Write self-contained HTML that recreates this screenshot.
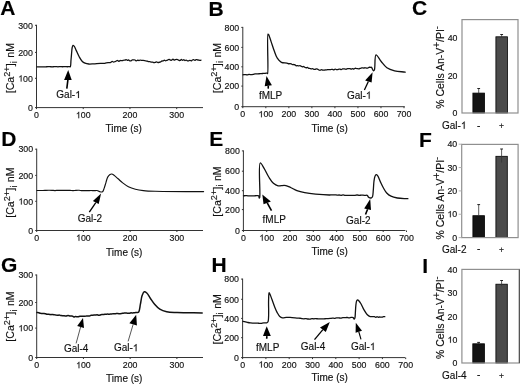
<!DOCTYPE html>
<html><head><meta charset="utf-8"><style>
html,body{margin:0;padding:0;background:#fff;}
svg{display:block;font-family:"Liberation Sans", sans-serif;will-change:transform;filter:blur(0.3px);}
text,.one{stroke:#111;stroke-width:0.15px;}
</style></head><body>
<svg width="520" height="384" viewBox="0 0 520 384" font-family='"Liberation Sans", sans-serif'>
<rect width="520" height="384" fill="#fff"/>
<text x="0.30" y="15.30" font-size="21" text-anchor="start" font-weight="bold" fill="#000" >A</text>
<text x="208.40" y="15.50" font-size="21" text-anchor="start" font-weight="bold" fill="#000" >B</text>
<text x="412.10" y="14.50" font-size="21" text-anchor="start" font-weight="bold" fill="#000" >C</text>
<text x="1.20" y="146.00" font-size="21" text-anchor="start" font-weight="bold" fill="#000" >D</text>
<text x="209.20" y="146.30" font-size="21" text-anchor="start" font-weight="bold" fill="#000" >E</text>
<text x="419.10" y="147.30" font-size="21" text-anchor="start" font-weight="bold" fill="#000" >F</text>
<text x="1.10" y="271.80" font-size="21" text-anchor="start" font-weight="bold" fill="#000" >G</text>
<text x="211.40" y="272.40" font-size="21" text-anchor="start" font-weight="bold" fill="#000" >H</text>
<text x="422.20" y="273.20" font-size="21" text-anchor="start" font-weight="bold" fill="#000" >I</text>
<line x1="36.50" y1="24.80" x2="36.50" y2="108.10" stroke="#333" stroke-width="1"/>
<line x1="36.00" y1="107.60" x2="203.00" y2="107.60" stroke="#333" stroke-width="1"/>
<line x1="35.00" y1="107.60" x2="36.50" y2="107.60" stroke="#333" stroke-width="1"/>
<text x="32.90" y="110.80" font-size="8.8" text-anchor="end" font-weight="normal" fill="#111" >0</text>
<line x1="35.00" y1="78.30" x2="36.50" y2="78.30" stroke="#333" stroke-width="1"/>
<text x="18.22" y="81.50" font-size="8.8" text-anchor="start" fill="#111" style="font-kerning:none"> 00</text>
<path class="one" d="M763 0H583V1147Q518 1085 412.5 1023T223 930V1104Q373 1175 485.5 1276T645 1472H763V0Z" transform="translate(18.218,81.500) scale(0.004297,-0.004297)" fill="#111" style="stroke-width:34.9px"/>
<line x1="35.00" y1="52.40" x2="36.50" y2="52.40" stroke="#333" stroke-width="1"/>
<text x="32.90" y="55.60" font-size="8.8" text-anchor="end" font-weight="normal" fill="#111" >200</text>
<line x1="35.00" y1="25.30" x2="36.50" y2="25.30" stroke="#333" stroke-width="1"/>
<text x="32.90" y="28.50" font-size="8.8" text-anchor="end" font-weight="normal" fill="#111" >300</text>
<line x1="36.50" y1="107.60" x2="36.50" y2="109.10" stroke="#333" stroke-width="1"/>
<text x="36.50" y="118.20" font-size="8.8" text-anchor="middle" font-weight="normal" fill="#111" >0</text>
<line x1="83.23" y1="107.60" x2="83.23" y2="109.10" stroke="#333" stroke-width="1"/>
<text x="75.89" y="118.20" font-size="8.8" text-anchor="start" fill="#111" style="font-kerning:none"> 00</text>
<path class="one" d="M763 0H583V1147Q518 1085 412.5 1023T223 930V1104Q373 1175 485.5 1276T645 1472H763V0Z" transform="translate(75.889,118.200) scale(0.004297,-0.004297)" fill="#111" style="stroke-width:34.9px"/>
<line x1="129.96" y1="107.60" x2="129.96" y2="109.10" stroke="#333" stroke-width="1"/>
<text x="129.96" y="118.20" font-size="8.8" text-anchor="middle" font-weight="normal" fill="#111" >200</text>
<line x1="176.69" y1="107.60" x2="176.69" y2="109.10" stroke="#333" stroke-width="1"/>
<text x="176.69" y="118.20" font-size="8.8" text-anchor="middle" font-weight="normal" fill="#111" >300</text>
<text x="105.50" y="131.60" font-size="10" text-anchor="start" font-weight="normal" fill="#111" >Time (s)</text>
<text transform="translate(14.20,68.10) rotate(-90)" font-size="10.6" text-anchor="middle" fill="#111">[Ca<tspan font-size="9.2" dy="-4.0">2+</tspan><tspan dy="4.0">]</tspan><tspan font-size="8.4" dy="2.9" dx="0.4">i</tspan><tspan dy="-2.9" dx="0.5"> nM</tspan></text>
<path d="M37.00,66.80 C37.72,66.83 38.44,66.90 39.17,66.90 C39.89,66.90 40.61,66.82 41.33,66.81 C42.06,66.81 42.78,66.88 43.50,66.89 C44.22,66.90 44.95,66.92 45.67,66.88 C46.39,66.84 47.11,66.69 47.83,66.64 C48.55,66.60 49.29,66.56 50.00,66.61 C50.68,66.65 51.33,66.89 52.00,66.89 C52.67,66.90 53.33,66.68 54.00,66.62 C54.67,66.57 55.33,66.54 56.00,66.57 C56.67,66.61 57.33,66.84 58.00,66.84 C58.67,66.84 59.30,66.61 60.00,66.59 C60.77,66.57 61.62,66.75 62.42,66.76 C63.23,66.77 64.04,66.65 64.85,66.64 C65.66,66.64 66.47,66.72 67.28,66.73 C68.08,66.74 69.16,66.66 69.70,66.70 C69.97,66.72 70.13,66.93 70.30,66.80 C70.87,66.37 70.79,62.16 71.00,60.00 C71.19,58.04 71.31,56.36 71.50,54.40 C71.71,52.22 71.82,49.14 72.20,47.50 C72.42,46.55 72.60,45.42 73.00,45.30 C73.34,45.20 73.88,45.78 74.30,46.30 C75.01,47.19 75.57,49.04 76.30,50.60 C77.18,52.48 78.16,54.94 79.20,56.80 C80.11,58.43 81.01,60.11 82.10,61.20 C82.98,62.08 83.92,62.64 85.00,63.10 C86.14,63.59 87.44,63.87 88.80,64.00 C90.32,64.15 91.94,63.90 93.70,63.80 C95.76,63.68 98.84,63.31 100.40,63.29 C101.24,63.28 101.69,63.38 102.33,63.38 C102.98,63.39 103.63,63.40 104.27,63.32 C104.91,63.24 105.57,63.02 106.20,62.90 C106.81,62.79 107.44,62.66 108.00,62.63 C108.49,62.60 108.94,62.73 109.40,62.69 C109.87,62.65 110.35,62.58 110.80,62.38 C111.29,62.16 111.72,61.41 112.20,61.37 C112.66,61.33 113.13,62.02 113.60,62.06 C114.06,62.09 114.55,61.80 115.00,61.62 C115.44,61.44 115.83,61.21 116.25,61.00 C116.67,60.80 117.09,60.38 117.50,60.42 C117.93,60.45 118.33,61.25 118.75,61.26 C119.16,61.27 119.57,60.62 120.00,60.51 C120.40,60.42 120.83,60.59 121.25,60.60 C121.67,60.61 122.09,60.64 122.50,60.57 C122.92,60.49 123.33,60.18 123.75,60.12 C124.16,60.05 124.60,60.23 125.00,60.15 C125.41,60.07 125.81,59.60 126.20,59.62 C126.61,59.65 126.99,60.25 127.40,60.31 C127.79,60.36 128.21,59.94 128.60,60.01 C129.02,60.08 129.38,60.66 129.80,60.81 C130.18,60.94 130.61,61.01 131.00,60.89 C131.46,60.75 131.87,60.02 132.34,59.86 C132.77,59.72 133.24,59.88 133.69,59.90 C134.13,59.92 134.60,59.84 135.03,59.99 C135.50,60.16 135.91,60.92 136.37,60.95 C136.81,60.98 137.25,60.32 137.71,60.25 C138.15,60.18 138.61,60.51 139.06,60.48 C139.51,60.45 139.95,60.05 140.40,60.04 C140.85,60.04 141.31,60.39 141.77,60.45 C142.22,60.52 142.69,60.42 143.14,60.44 C143.60,60.45 144.06,60.45 144.51,60.53 C144.98,60.63 145.42,60.88 145.89,60.98 C146.34,61.08 146.81,61.01 147.26,61.12 C147.72,61.24 148.16,61.62 148.63,61.68 C149.08,61.75 149.56,61.47 150.00,61.54 C150.45,61.60 150.87,61.97 151.32,62.08 C151.75,62.18 152.20,62.12 152.64,62.20 C153.08,62.29 153.52,62.57 153.96,62.60 C154.40,62.63 154.84,62.51 155.28,62.40 C155.72,62.30 156.16,61.95 156.60,61.96 C157.05,61.97 157.49,62.45 157.95,62.49 C158.39,62.54 158.85,62.37 159.30,62.25 C159.75,62.14 160.21,62.00 160.65,61.80 C161.11,61.59 161.54,61.11 162.00,60.99 C162.40,60.88 162.83,61.12 163.21,61.00 C163.64,60.87 164.01,60.20 164.43,60.17 C164.82,60.15 165.23,60.79 165.64,60.81 C166.04,60.82 166.45,60.47 166.85,60.30 C167.26,60.12 167.66,59.92 168.06,59.75 C168.46,59.58 168.88,59.23 169.27,59.28 C169.69,59.33 170.06,60.00 170.49,60.14 C170.87,60.26 171.32,60.28 171.70,60.14 C172.14,59.97 172.50,59.05 172.91,59.04 C173.31,59.03 173.69,59.96 174.12,60.04 C174.50,60.10 174.92,59.72 175.33,59.60 C175.73,59.49 176.13,59.34 176.54,59.34 C176.94,59.34 177.35,59.45 177.75,59.60 C178.16,59.75 178.54,60.14 178.95,60.29 C179.35,60.43 179.78,60.60 180.16,60.49 C180.59,60.38 180.96,59.51 181.37,59.49 C181.77,59.47 182.17,60.29 182.58,60.30 C182.98,60.32 183.40,59.60 183.79,59.64 C184.21,59.67 184.58,60.53 185.00,60.58 C185.39,60.64 185.83,60.05 186.23,60.07 C186.65,60.10 187.04,60.64 187.46,60.78 C187.86,60.91 188.29,60.98 188.69,60.90 C189.11,60.82 189.51,60.28 189.92,60.28 C190.33,60.28 190.75,60.94 191.15,60.91 C191.57,60.88 191.95,60.21 192.38,60.01 C192.78,59.82 193.21,59.65 193.62,59.70 C194.04,59.75 194.44,60.38 194.85,60.37 C195.26,60.36 195.65,59.70 196.08,59.62 C196.47,59.55 196.90,59.75 197.31,59.83 C197.72,59.91 198.13,60.01 198.54,60.10 C198.95,60.18 199.36,60.33 199.77,60.35 C200.18,60.37 200.59,60.25 201.00,60.20" fill="none" stroke="#111" stroke-width="1.3" stroke-linejoin="round" stroke-linecap="round"/>
<line x1="67.90" y1="79.90" x2="66.80" y2="88.70" stroke="#000" stroke-width="1.6"/>
<polygon points="68.20,70.00 64.10,79.90 71.70,79.90" fill="#000"/>
<text x="56.30" y="98.10" font-size="10" text-anchor="start" fill="#111" style="font-kerning:none">Gal- </text>
<path class="one" d="M763 0H583V1147Q518 1085 412.5 1023T223 930V1104Q373 1175 485.5 1276T645 1472H763V0Z" transform="translate(75.192,98.100) scale(0.004883,-0.004883)" fill="#111" style="stroke-width:30.7px"/>
<line x1="242.80" y1="26.90" x2="242.80" y2="107.20" stroke="#333" stroke-width="1"/>
<line x1="242.30" y1="106.70" x2="404.80" y2="106.70" stroke="#333" stroke-width="1"/>
<line x1="241.30" y1="106.70" x2="242.80" y2="106.70" stroke="#333" stroke-width="1"/>
<text x="239.20" y="109.90" font-size="8.8" text-anchor="end" font-weight="normal" fill="#111" >0</text>
<line x1="241.30" y1="86.10" x2="242.80" y2="86.10" stroke="#333" stroke-width="1"/>
<text x="239.20" y="89.30" font-size="8.8" text-anchor="end" font-weight="normal" fill="#111" >200</text>
<line x1="241.30" y1="66.80" x2="242.80" y2="66.80" stroke="#333" stroke-width="1"/>
<text x="239.20" y="70.00" font-size="8.8" text-anchor="end" font-weight="normal" fill="#111" >400</text>
<line x1="241.30" y1="47.40" x2="242.80" y2="47.40" stroke="#333" stroke-width="1"/>
<text x="239.20" y="50.60" font-size="8.8" text-anchor="end" font-weight="normal" fill="#111" >600</text>
<line x1="241.30" y1="27.40" x2="242.80" y2="27.40" stroke="#333" stroke-width="1"/>
<text x="239.20" y="30.60" font-size="8.8" text-anchor="end" font-weight="normal" fill="#111" >800</text>
<line x1="242.80" y1="106.70" x2="242.80" y2="108.20" stroke="#333" stroke-width="1"/>
<text x="242.80" y="117.30" font-size="8.8" text-anchor="middle" font-weight="normal" fill="#111" >0</text>
<line x1="265.83" y1="106.70" x2="265.83" y2="108.20" stroke="#333" stroke-width="1"/>
<text x="258.49" y="117.30" font-size="8.8" text-anchor="start" fill="#111" style="font-kerning:none"> 00</text>
<path class="one" d="M763 0H583V1147Q518 1085 412.5 1023T223 930V1104Q373 1175 485.5 1276T645 1472H763V0Z" transform="translate(258.489,117.300) scale(0.004297,-0.004297)" fill="#111" style="stroke-width:34.9px"/>
<line x1="288.86" y1="106.70" x2="288.86" y2="108.20" stroke="#333" stroke-width="1"/>
<text x="288.86" y="117.30" font-size="8.8" text-anchor="middle" font-weight="normal" fill="#111" >200</text>
<line x1="311.89" y1="106.70" x2="311.89" y2="108.20" stroke="#333" stroke-width="1"/>
<text x="311.89" y="117.30" font-size="8.8" text-anchor="middle" font-weight="normal" fill="#111" >300</text>
<line x1="334.92" y1="106.70" x2="334.92" y2="108.20" stroke="#333" stroke-width="1"/>
<text x="334.92" y="117.30" font-size="8.8" text-anchor="middle" font-weight="normal" fill="#111" >400</text>
<line x1="357.95" y1="106.70" x2="357.95" y2="108.20" stroke="#333" stroke-width="1"/>
<text x="357.95" y="117.30" font-size="8.8" text-anchor="middle" font-weight="normal" fill="#111" >500</text>
<line x1="380.98" y1="106.70" x2="380.98" y2="108.20" stroke="#333" stroke-width="1"/>
<text x="380.98" y="117.30" font-size="8.8" text-anchor="middle" font-weight="normal" fill="#111" >600</text>
<line x1="404.01" y1="106.70" x2="404.01" y2="108.20" stroke="#333" stroke-width="1"/>
<text x="404.01" y="117.30" font-size="8.8" text-anchor="middle" font-weight="normal" fill="#111" >700</text>
<text x="311.50" y="131.50" font-size="10" text-anchor="start" font-weight="normal" fill="#111" >Time (s)</text>
<text transform="translate(220.50,68.00) rotate(-90)" font-size="10.6" text-anchor="middle" fill="#111">[Ca<tspan font-size="9.2" dy="-4.0">2+</tspan><tspan dy="4.0">]</tspan><tspan font-size="8.4" dy="2.9" dx="0.4">i</tspan><tspan dy="-2.9" dx="0.5"> nM</tspan></text>
<path d="M243.00,74.79 C243.68,74.72 244.35,74.55 245.03,74.57 C245.70,74.59 246.38,74.93 247.05,74.90 C247.73,74.88 248.40,74.46 249.07,74.41 C249.75,74.37 250.42,74.64 251.10,74.64 C251.77,74.65 252.45,74.56 253.12,74.45 C253.80,74.34 254.47,74.07 255.15,73.98 C255.82,73.88 256.50,73.91 257.18,73.87 C257.85,73.83 258.52,73.78 259.20,73.75 C259.87,73.71 260.55,73.71 261.23,73.66 C261.90,73.62 262.57,73.54 263.25,73.47 C263.92,73.41 264.60,73.36 265.28,73.29 C265.95,73.23 266.91,72.93 267.30,73.10 C267.52,73.19 267.58,73.64 267.70,73.60 C268.64,73.27 266.77,34.79 268.00,34.10 C268.15,34.02 268.32,34.18 268.50,34.40 C269.16,35.20 270.21,39.05 271.10,41.60 C272.10,44.47 273.11,47.92 274.20,50.80 C275.19,53.42 275.96,56.18 277.30,58.20 C278.44,59.93 279.77,61.60 281.40,62.40 C282.98,63.17 285.65,62.67 286.90,63.02 C287.60,63.22 287.92,63.63 288.45,63.74 C288.95,63.85 289.51,63.66 290.00,63.71 C290.44,63.75 290.84,63.84 291.25,63.98 C291.68,64.13 292.07,64.54 292.50,64.62 C292.91,64.70 293.34,64.44 293.75,64.49 C294.17,64.53 294.60,64.69 295.00,64.90 C295.44,65.13 295.81,65.72 296.25,65.83 C296.65,65.92 297.08,65.61 297.50,65.62 C297.92,65.63 298.33,65.90 298.75,65.90 C299.17,65.90 299.59,65.55 300.00,65.61 C300.43,65.67 300.83,66.12 301.25,66.32 C301.66,66.51 302.08,66.75 302.50,66.78 C302.91,66.81 303.35,66.44 303.75,66.52 C304.19,66.61 304.56,67.21 305.00,67.42 C305.40,67.60 305.83,67.73 306.25,67.73 C306.67,67.74 307.10,67.38 307.50,67.46 C307.94,67.55 308.31,68.16 308.75,68.33 C309.15,68.48 309.59,68.38 310.00,68.47 C310.42,68.55 310.83,68.82 311.25,68.85 C311.66,68.89 312.09,68.64 312.50,68.70 C312.92,68.76 313.33,69.11 313.75,69.23 C314.16,69.35 314.59,69.49 315.00,69.44 C315.42,69.39 315.83,68.95 316.25,68.90 C316.66,68.85 317.10,68.96 317.50,69.11 C317.93,69.28 318.32,69.69 318.75,69.90 C319.16,70.10 319.59,70.39 320.00,70.36 C320.42,70.34 320.82,69.78 321.25,69.73 C321.66,69.67 322.08,69.92 322.50,70.01 C322.92,70.09 323.33,70.22 323.75,70.22 C324.17,70.22 324.58,70.07 325.00,70.02 C325.42,69.97 325.83,69.96 326.25,69.91 C326.67,69.86 327.08,69.76 327.50,69.71 C327.92,69.66 328.33,69.62 328.75,69.62 C329.17,69.62 329.59,69.73 330.00,69.70 C330.42,69.66 330.83,69.42 331.25,69.38 C331.66,69.33 332.09,69.36 332.50,69.43 C332.92,69.50 333.35,69.85 333.75,69.80 C334.18,69.74 334.57,69.06 335.00,69.03 C335.41,68.99 335.83,69.43 336.25,69.54 C336.66,69.65 337.09,69.73 337.50,69.69 C337.92,69.64 338.33,69.33 338.75,69.24 C339.16,69.14 339.59,69.06 340.00,69.12 C340.42,69.19 340.84,69.65 341.25,69.63 C341.67,69.61 342.07,69.12 342.50,68.99 C342.91,68.87 343.33,68.85 343.75,68.86 C344.17,68.87 344.58,68.98 345.00,69.04 C345.42,69.10 345.84,69.29 346.25,69.22 C346.68,69.15 347.07,68.63 347.50,68.55 C347.90,68.47 348.33,68.68 348.75,68.70 C349.17,68.71 349.59,68.57 350.00,68.63 C350.42,68.70 350.83,69.08 351.25,69.08 C351.67,69.08 352.08,68.65 352.50,68.64 C352.91,68.63 353.34,69.06 353.75,69.01 C354.18,68.95 354.57,68.37 355.00,68.27 C355.40,68.18 355.84,68.32 356.25,68.39 C356.67,68.45 357.08,68.58 357.50,68.65 C357.92,68.72 358.34,68.88 358.75,68.83 C359.17,68.79 359.58,68.49 360.00,68.35 C360.42,68.21 360.85,68.11 361.28,68.01 C361.70,67.92 362.13,67.79 362.56,67.80 C362.98,67.81 363.41,68.12 363.83,68.10 C364.26,68.07 364.69,67.64 365.11,67.65 C365.54,67.65 365.96,68.08 366.39,68.15 C366.81,68.22 367.26,68.20 367.67,68.07 C368.11,67.93 368.50,67.43 368.94,67.31 C369.36,67.19 369.80,67.27 370.22,67.29 C370.65,67.31 371.09,67.14 371.50,67.40 C372.22,67.85 372.91,70.71 373.50,70.80 C373.82,70.85 374.13,70.52 374.40,70.00 C375.35,68.15 374.44,55.24 376.00,54.80 C377.16,54.47 379.38,59.35 381.20,61.50 C383.01,63.65 384.66,66.15 386.90,67.70 C389.13,69.24 391.78,70.07 394.60,70.80 C397.80,71.63 401.67,71.67 405.20,72.10" fill="none" stroke="#111" stroke-width="1.3" stroke-linejoin="round" stroke-linecap="round"/>
<line x1="268.30" y1="85.80" x2="268.20" y2="88.60" stroke="#000" stroke-width="1.6"/>
<polygon points="266.50,76.00 264.70,86.30 271.90,85.30" fill="#000"/>
<text x="258.90" y="98.90" font-size="10" text-anchor="start" font-weight="normal" fill="#111" >fMLP</text>
<line x1="368.35" y1="81.60" x2="364.40" y2="90.10" stroke="#000" stroke-width="1.3"/>
<polygon points="372.60,72.30 365.10,80.60 371.60,82.60" fill="#000"/>
<text x="347.00" y="98.70" font-size="10" text-anchor="start" fill="#111" style="font-kerning:none">Gal- </text>
<path class="one" d="M763 0H583V1147Q518 1085 412.5 1023T223 930V1104Q373 1175 485.5 1276T645 1472H763V0Z" transform="translate(365.892,98.700) scale(0.004883,-0.004883)" fill="#111" style="stroke-width:30.7px"/>
<rect x="472.90" y="93.10" width="11.60" height="19.90" fill="#141414" stroke="#000" stroke-width="0.8"/>
<line x1="478.70" y1="88.50" x2="478.70" y2="93.20" stroke="#333" stroke-width="0.8"/>
<line x1="477.30" y1="88.50" x2="480.10" y2="88.50" stroke="#222" stroke-width="1.0"/>
<rect x="495.90" y="36.80" width="11.50" height="76.20" fill="#4b4b4b" stroke="#000" stroke-width="0.8"/>
<line x1="501.65" y1="34.50" x2="501.65" y2="36.90" stroke="#333" stroke-width="0.8"/>
<line x1="500.25" y1="34.50" x2="503.05" y2="34.50" stroke="#222" stroke-width="1.0"/>
<rect x="462.00" y="19.60" width="56.00" height="93.40" fill="none" stroke="#8f8f8f" stroke-width="1.2"/>
<text x="457.50" y="116.00" font-size="8.8" text-anchor="end" font-weight="normal" fill="#111" >0</text>
<text x="457.50" y="78.60" font-size="8.8" text-anchor="end" font-weight="normal" fill="#111" >20</text>
<text x="457.50" y="41.20" font-size="8.8" text-anchor="end" font-weight="normal" fill="#111" >40</text>
<text x="442.00" y="128.80" font-size="10" text-anchor="start" fill="#111" style="font-kerning:none">Gal- </text>
<path class="one" d="M763 0H583V1147Q518 1085 412.5 1023T223 930V1104Q373 1175 485.5 1276T645 1472H763V0Z" transform="translate(460.892,128.800) scale(0.004883,-0.004883)" fill="#111" style="stroke-width:30.7px"/>
<text x="478.60" y="128.50" font-size="10" text-anchor="middle" font-weight="normal" fill="#111" >-</text>
<text x="501.50" y="129.10" font-size="8.5" text-anchor="middle" font-weight="normal" fill="#111" >+</text>
<text transform="translate(443.50,67.30) rotate(-90)" font-size="10.45" text-anchor="middle" fill="#111">% Cells An-V<tspan font-size="10" dy="-4.0">+</tspan><tspan dy="4.0">/PI</tspan><tspan font-size="9.6" dy="-4.0">-</tspan></text>
<line x1="36.70" y1="148.70" x2="36.70" y2="231.00" stroke="#333" stroke-width="1"/>
<line x1="36.20" y1="230.50" x2="203.00" y2="230.50" stroke="#333" stroke-width="1"/>
<line x1="35.20" y1="230.50" x2="36.70" y2="230.50" stroke="#333" stroke-width="1"/>
<text x="33.10" y="233.70" font-size="8.8" text-anchor="end" font-weight="normal" fill="#111" >0</text>
<line x1="35.20" y1="201.30" x2="36.70" y2="201.30" stroke="#333" stroke-width="1"/>
<text x="18.42" y="204.50" font-size="8.8" text-anchor="start" fill="#111" style="font-kerning:none"> 00</text>
<path class="one" d="M763 0H583V1147Q518 1085 412.5 1023T223 930V1104Q373 1175 485.5 1276T645 1472H763V0Z" transform="translate(18.418,204.500) scale(0.004297,-0.004297)" fill="#111" style="stroke-width:34.9px"/>
<line x1="35.20" y1="175.40" x2="36.70" y2="175.40" stroke="#333" stroke-width="1"/>
<text x="33.10" y="178.60" font-size="8.8" text-anchor="end" font-weight="normal" fill="#111" >200</text>
<line x1="35.20" y1="149.20" x2="36.70" y2="149.20" stroke="#333" stroke-width="1"/>
<text x="33.10" y="152.40" font-size="8.8" text-anchor="end" font-weight="normal" fill="#111" >300</text>
<line x1="36.70" y1="230.50" x2="36.70" y2="232.00" stroke="#333" stroke-width="1"/>
<text x="36.70" y="240.80" font-size="8.8" text-anchor="middle" font-weight="normal" fill="#111" >0</text>
<line x1="83.43" y1="230.50" x2="83.43" y2="232.00" stroke="#333" stroke-width="1"/>
<text x="76.09" y="240.80" font-size="8.8" text-anchor="start" fill="#111" style="font-kerning:none"> 00</text>
<path class="one" d="M763 0H583V1147Q518 1085 412.5 1023T223 930V1104Q373 1175 485.5 1276T645 1472H763V0Z" transform="translate(76.089,240.800) scale(0.004297,-0.004297)" fill="#111" style="stroke-width:34.9px"/>
<line x1="130.16" y1="230.50" x2="130.16" y2="232.00" stroke="#333" stroke-width="1"/>
<text x="130.16" y="240.80" font-size="8.8" text-anchor="middle" font-weight="normal" fill="#111" >200</text>
<line x1="176.89" y1="230.50" x2="176.89" y2="232.00" stroke="#333" stroke-width="1"/>
<text x="176.89" y="240.80" font-size="8.8" text-anchor="middle" font-weight="normal" fill="#111" >300</text>
<text x="106.10" y="255.80" font-size="10" text-anchor="start" font-weight="normal" fill="#111" >Time (s)</text>
<text transform="translate(14.40,192.60) rotate(-90)" font-size="10.6" text-anchor="middle" fill="#111">[Ca<tspan font-size="9.2" dy="-4.0">2+</tspan><tspan dy="4.0">]</tspan><tspan font-size="8.4" dy="2.9" dx="0.4">i</tspan><tspan dy="-2.9" dx="0.5"> nM</tspan></text>
<path d="M37.00,190.52 C38.00,190.50 39.00,190.46 40.00,190.46 C41.00,190.46 42.00,190.55 43.00,190.53 C44.00,190.51 45.00,190.40 46.00,190.35 C47.00,190.31 48.00,190.27 49.00,190.27 C50.00,190.27 51.00,190.30 52.00,190.34 C53.00,190.39 54.00,190.55 55.00,190.55 C56.00,190.55 57.00,190.37 58.00,190.34 C59.00,190.32 60.00,190.37 61.00,190.38 C62.00,190.39 63.00,190.41 64.00,190.41 C65.00,190.42 66.00,190.42 67.00,190.42 C68.00,190.42 69.00,190.38 70.00,190.42 C71.00,190.45 72.00,190.64 73.00,190.63 C74.00,190.61 75.00,190.39 76.00,190.33 C77.00,190.27 78.00,190.22 79.00,190.27 C80.00,190.33 81.00,190.59 82.00,190.65 C83.00,190.71 84.00,190.63 85.00,190.63 C86.00,190.64 87.00,190.71 88.00,190.68 C89.00,190.65 90.00,190.46 91.00,190.46 C92.00,190.46 93.00,190.67 94.00,190.68 C95.00,190.68 96.05,190.34 97.00,190.50 C97.92,190.66 98.69,191.38 99.60,191.60 C100.52,191.82 101.76,192.24 102.50,191.80 C103.38,191.28 103.67,189.49 104.20,188.10 C104.85,186.40 105.40,184.18 106.00,182.30 C106.57,180.52 106.91,178.47 107.70,177.10 C108.33,176.01 109.22,175.00 110.00,174.50 C110.56,174.14 111.10,173.94 111.70,174.00 C112.42,174.07 113.16,174.63 114.00,175.20 C115.22,176.03 116.70,177.56 118.10,178.80 C119.59,180.12 121.04,181.61 122.70,182.90 C124.45,184.26 126.33,185.66 128.40,186.70 C130.55,187.78 132.96,188.56 135.40,189.20 C137.95,189.87 140.48,190.26 143.40,190.60 C146.90,191.01 149.80,191.13 155.00,191.30 C165.63,191.65 187.40,191.50 203.60,191.60" fill="none" stroke="#111" stroke-width="1.15" stroke-linejoin="round" stroke-linecap="round"/>
<line x1="95.80" y1="202.55" x2="89.30" y2="212.20" stroke="#000" stroke-width="1.3"/>
<polygon points="101.10,193.50 92.90,201.10 98.70,204.00" fill="#000"/>
<text x="77.70" y="221.60" font-size="10" text-anchor="start" font-weight="normal" fill="#111" >Gal-2</text>
<line x1="243.40" y1="150.40" x2="243.40" y2="231.00" stroke="#333" stroke-width="1"/>
<line x1="242.90" y1="230.50" x2="405.40" y2="230.50" stroke="#333" stroke-width="1"/>
<line x1="241.90" y1="230.50" x2="243.40" y2="230.50" stroke="#333" stroke-width="1"/>
<text x="239.80" y="233.70" font-size="8.8" text-anchor="end" font-weight="normal" fill="#111" >0</text>
<line x1="241.90" y1="209.60" x2="243.40" y2="209.60" stroke="#333" stroke-width="1"/>
<text x="239.80" y="212.80" font-size="8.8" text-anchor="end" font-weight="normal" fill="#111" >200</text>
<line x1="241.90" y1="190.70" x2="243.40" y2="190.70" stroke="#333" stroke-width="1"/>
<text x="239.80" y="193.90" font-size="8.8" text-anchor="end" font-weight="normal" fill="#111" >400</text>
<line x1="241.90" y1="171.20" x2="243.40" y2="171.20" stroke="#333" stroke-width="1"/>
<text x="239.80" y="174.40" font-size="8.8" text-anchor="end" font-weight="normal" fill="#111" >600</text>
<line x1="241.90" y1="150.90" x2="243.40" y2="150.90" stroke="#333" stroke-width="1"/>
<text x="239.80" y="154.10" font-size="8.8" text-anchor="end" font-weight="normal" fill="#111" >800</text>
<line x1="243.40" y1="230.50" x2="243.40" y2="232.00" stroke="#333" stroke-width="1"/>
<text x="243.40" y="240.80" font-size="8.8" text-anchor="middle" font-weight="normal" fill="#111" >0</text>
<line x1="266.70" y1="230.50" x2="266.70" y2="232.00" stroke="#333" stroke-width="1"/>
<text x="259.36" y="240.80" font-size="8.8" text-anchor="start" fill="#111" style="font-kerning:none"> 00</text>
<path class="one" d="M763 0H583V1147Q518 1085 412.5 1023T223 930V1104Q373 1175 485.5 1276T645 1472H763V0Z" transform="translate(259.359,240.800) scale(0.004297,-0.004297)" fill="#111" style="stroke-width:34.9px"/>
<line x1="290.00" y1="230.50" x2="290.00" y2="232.00" stroke="#333" stroke-width="1"/>
<text x="290.00" y="240.80" font-size="8.8" text-anchor="middle" font-weight="normal" fill="#111" >200</text>
<line x1="313.30" y1="230.50" x2="313.30" y2="232.00" stroke="#333" stroke-width="1"/>
<text x="313.30" y="240.80" font-size="8.8" text-anchor="middle" font-weight="normal" fill="#111" >300</text>
<line x1="336.60" y1="230.50" x2="336.60" y2="232.00" stroke="#333" stroke-width="1"/>
<text x="336.60" y="240.80" font-size="8.8" text-anchor="middle" font-weight="normal" fill="#111" >400</text>
<line x1="359.90" y1="230.50" x2="359.90" y2="232.00" stroke="#333" stroke-width="1"/>
<text x="359.90" y="240.80" font-size="8.8" text-anchor="middle" font-weight="normal" fill="#111" >500</text>
<line x1="383.20" y1="230.50" x2="383.20" y2="232.00" stroke="#333" stroke-width="1"/>
<text x="383.20" y="240.80" font-size="8.8" text-anchor="middle" font-weight="normal" fill="#111" >600</text>
<line x1="406.50" y1="230.50" x2="406.50" y2="232.00" stroke="#333" stroke-width="1"/>
<text x="406.50" y="240.80" font-size="8.8" text-anchor="middle" font-weight="normal" fill="#111" >700</text>
<text x="311.50" y="255.20" font-size="10" text-anchor="start" font-weight="normal" fill="#111" >Time (s)</text>
<text transform="translate(220.50,191.50) rotate(-90)" font-size="10.6" text-anchor="middle" fill="#111">[Ca<tspan font-size="9.2" dy="-4.0">2+</tspan><tspan dy="4.0">]</tspan><tspan font-size="8.4" dy="2.9" dx="0.4">i</tspan><tspan dy="-2.9" dx="0.5"> nM</tspan></text>
<path d="M243.50,195.87 C244.22,195.78 244.94,195.61 245.66,195.60 C246.38,195.60 247.09,195.78 247.81,195.83 C248.53,195.87 249.25,195.88 249.97,195.88 C250.69,195.88 251.41,195.84 252.13,195.82 C252.85,195.81 253.57,195.80 254.29,195.78 C255.00,195.76 255.72,195.70 256.44,195.70 C257.16,195.70 258.14,195.43 258.60,195.80 C259.08,196.19 258.94,198.04 259.20,198.10 C259.35,198.13 259.55,197.90 259.70,197.50 C260.68,194.84 258.09,163.66 260.20,163.00 C261.13,162.71 262.81,166.34 264.10,168.40 C265.66,170.89 267.10,174.41 268.75,177.00 C270.22,179.32 271.66,181.78 273.40,183.30 C274.84,184.56 276.65,185.60 278.10,185.90 C279.22,186.13 280.10,185.65 281.25,185.60 C282.65,185.53 284.37,185.30 285.90,185.60 C287.49,185.91 288.93,186.75 290.60,187.50 C292.56,188.38 294.64,189.75 296.90,190.60 C299.32,191.51 301.86,192.13 304.70,192.70 C308.01,193.37 311.71,193.82 315.60,194.20 C320.06,194.63 328.00,195.02 330.00,195.00 C330.53,194.99 330.61,194.94 331.00,194.92 C331.55,194.89 332.34,194.90 333.01,194.89 C333.68,194.87 334.36,194.80 335.02,194.83 C335.70,194.87 336.37,195.09 337.04,195.12 C337.71,195.15 338.38,194.97 339.05,194.99 C339.72,195.02 340.39,195.29 341.06,195.28 C341.73,195.27 342.41,194.91 343.08,194.92 C343.75,194.94 344.41,195.32 345.09,195.38 C345.75,195.44 346.43,195.29 347.10,195.30 C347.77,195.30 348.44,195.40 349.11,195.42 C349.78,195.44 350.45,195.42 351.12,195.42 C351.79,195.42 352.46,195.45 353.13,195.43 C353.80,195.41 354.47,195.35 355.14,195.28 C355.81,195.21 356.48,194.99 357.15,195.01 C357.82,195.02 358.49,195.37 359.16,195.38 C359.83,195.40 360.50,195.14 361.17,195.11 C361.84,195.07 362.51,195.14 363.18,195.18 C363.85,195.22 364.52,195.35 365.19,195.37 C365.86,195.39 366.65,195.02 367.20,195.30 C367.81,195.60 368.09,196.86 368.60,197.30 C368.98,197.63 369.36,197.81 369.80,197.90 C370.28,198.00 370.95,198.00 371.40,197.80 C371.85,197.60 372.21,197.30 372.50,196.70 C373.10,195.46 373.06,192.40 373.30,190.00 C373.57,187.22 373.64,183.52 374.00,181.00 C374.26,179.14 374.48,177.31 375.00,176.20 C375.33,175.51 375.75,174.77 376.20,174.70 C376.62,174.63 377.14,175.06 377.60,175.60 C378.54,176.70 379.41,179.80 380.40,181.90 C381.41,184.04 382.48,186.36 383.60,188.30 C384.59,190.02 385.45,191.67 386.70,193.00 C387.92,194.29 389.35,195.38 391.00,196.20 C392.83,197.10 394.90,197.58 397.30,198.00 C400.35,198.53 404.37,198.47 407.90,198.70" fill="none" stroke="#111" stroke-width="1.3" stroke-linejoin="round" stroke-linecap="round"/>
<line x1="267.20" y1="202.85" x2="271.50" y2="210.60" stroke="#000" stroke-width="1.6"/>
<polygon points="262.30,194.60 263.50,204.30 270.90,201.40" fill="#000"/>
<text x="262.60" y="222.70" font-size="10" text-anchor="start" font-weight="normal" fill="#111" >fMLP</text>
<line x1="367.60" y1="209.25" x2="365.50" y2="214.50" stroke="#000" stroke-width="1.6"/>
<polygon points="370.20,198.90 364.20,208.50 371.00,210.00" fill="#000"/>
<text x="346.10" y="224.20" font-size="10" text-anchor="start" font-weight="normal" fill="#111" >Gal-2</text>
<rect x="472.90" y="215.70" width="11.60" height="21.90" fill="#141414" stroke="#000" stroke-width="0.8"/>
<line x1="478.70" y1="204.60" x2="478.70" y2="215.80" stroke="#333" stroke-width="0.8"/>
<line x1="477.30" y1="204.60" x2="480.10" y2="204.60" stroke="#222" stroke-width="1.0"/>
<rect x="495.90" y="156.30" width="11.40" height="81.30" fill="#4b4b4b" stroke="#000" stroke-width="0.8"/>
<line x1="501.60" y1="149.00" x2="501.60" y2="162.50" stroke="#333" stroke-width="0.8"/>
<line x1="500.20" y1="149.00" x2="503.00" y2="149.00" stroke="#222" stroke-width="1.0"/>
<rect x="461.70" y="144.40" width="56.40" height="93.20" fill="none" stroke="#8f8f8f" stroke-width="1.2"/>
<text x="457.20" y="240.60" font-size="8.8" text-anchor="end" font-weight="normal" fill="#111" >0</text>
<line x1="458.70" y1="237.60" x2="461.70" y2="237.60" stroke="#aaa" stroke-width="0.9"/>
<text x="447.41" y="217.25" font-size="8.8" text-anchor="start" fill="#111" style="font-kerning:none"> 0</text>
<path class="one" d="M763 0H583V1147Q518 1085 412.5 1023T223 930V1104Q373 1175 485.5 1276T645 1472H763V0Z" transform="translate(447.412,217.250) scale(0.004297,-0.004297)" fill="#111" style="stroke-width:34.9px"/>
<line x1="458.70" y1="214.25" x2="461.70" y2="214.25" stroke="#aaa" stroke-width="0.9"/>
<text x="457.20" y="193.90" font-size="8.8" text-anchor="end" font-weight="normal" fill="#111" >20</text>
<line x1="458.70" y1="190.90" x2="461.70" y2="190.90" stroke="#aaa" stroke-width="0.9"/>
<text x="457.20" y="170.55" font-size="8.8" text-anchor="end" font-weight="normal" fill="#111" >30</text>
<line x1="458.70" y1="167.55" x2="461.70" y2="167.55" stroke="#aaa" stroke-width="0.9"/>
<text x="457.20" y="147.20" font-size="8.8" text-anchor="end" font-weight="normal" fill="#111" >40</text>
<line x1="458.70" y1="144.20" x2="461.70" y2="144.20" stroke="#aaa" stroke-width="0.9"/>
<text x="442.00" y="253.00" font-size="10" text-anchor="start" font-weight="normal" fill="#111" >Gal-2</text>
<text x="478.60" y="252.00" font-size="10" text-anchor="middle" font-weight="normal" fill="#111" >-</text>
<text x="501.50" y="252.60" font-size="8.5" text-anchor="middle" font-weight="normal" fill="#111" >+</text>
<text transform="translate(443.50,198.05) rotate(-90)" font-size="10.45" text-anchor="middle" fill="#111">% Cells An-V<tspan font-size="10" dy="-4.0">+</tspan><tspan dy="4.0">/PI</tspan><tspan font-size="9.6" dy="-4.0">-</tspan></text>
<line x1="36.70" y1="274.50" x2="36.70" y2="358.00" stroke="#333" stroke-width="1"/>
<line x1="36.20" y1="357.50" x2="203.00" y2="357.50" stroke="#333" stroke-width="1"/>
<line x1="35.20" y1="357.50" x2="36.70" y2="357.50" stroke="#333" stroke-width="1"/>
<text x="33.10" y="360.70" font-size="8.8" text-anchor="end" font-weight="normal" fill="#111" >0</text>
<line x1="35.20" y1="328.10" x2="36.70" y2="328.10" stroke="#333" stroke-width="1"/>
<text x="18.42" y="331.30" font-size="8.8" text-anchor="start" fill="#111" style="font-kerning:none"> 00</text>
<path class="one" d="M763 0H583V1147Q518 1085 412.5 1023T223 930V1104Q373 1175 485.5 1276T645 1472H763V0Z" transform="translate(18.418,331.300) scale(0.004297,-0.004297)" fill="#111" style="stroke-width:34.9px"/>
<line x1="35.20" y1="302.50" x2="36.70" y2="302.50" stroke="#333" stroke-width="1"/>
<text x="33.10" y="305.70" font-size="8.8" text-anchor="end" font-weight="normal" fill="#111" >200</text>
<line x1="35.20" y1="275.00" x2="36.70" y2="275.00" stroke="#333" stroke-width="1"/>
<text x="33.10" y="278.20" font-size="8.8" text-anchor="end" font-weight="normal" fill="#111" >300</text>
<line x1="36.70" y1="357.50" x2="36.70" y2="359.00" stroke="#333" stroke-width="1"/>
<text x="36.70" y="368.20" font-size="8.8" text-anchor="middle" font-weight="normal" fill="#111" >0</text>
<line x1="83.43" y1="357.50" x2="83.43" y2="359.00" stroke="#333" stroke-width="1"/>
<text x="76.09" y="368.20" font-size="8.8" text-anchor="start" fill="#111" style="font-kerning:none"> 00</text>
<path class="one" d="M763 0H583V1147Q518 1085 412.5 1023T223 930V1104Q373 1175 485.5 1276T645 1472H763V0Z" transform="translate(76.089,368.200) scale(0.004297,-0.004297)" fill="#111" style="stroke-width:34.9px"/>
<line x1="130.16" y1="357.50" x2="130.16" y2="359.00" stroke="#333" stroke-width="1"/>
<text x="130.16" y="368.20" font-size="8.8" text-anchor="middle" font-weight="normal" fill="#111" >200</text>
<line x1="176.89" y1="357.50" x2="176.89" y2="359.00" stroke="#333" stroke-width="1"/>
<text x="176.89" y="368.20" font-size="8.8" text-anchor="middle" font-weight="normal" fill="#111" >300</text>
<text x="106.10" y="382.20" font-size="10" text-anchor="start" font-weight="normal" fill="#111" >Time (s)</text>
<text transform="translate(14.40,316.50) rotate(-90)" font-size="10.6" text-anchor="middle" fill="#111">[Ca<tspan font-size="9.2" dy="-4.0">2+</tspan><tspan dy="4.0">]</tspan><tspan font-size="8.4" dy="2.9" dx="0.4">i</tspan><tspan dy="-2.9" dx="0.5"> nM</tspan></text>
<path d="M37.00,312.51 C37.56,312.59 38.13,312.60 38.68,312.73 C39.25,312.86 39.79,313.21 40.36,313.32 C40.91,313.43 41.48,313.37 42.04,313.41 C42.60,313.44 43.16,313.47 43.72,313.52 C44.28,313.58 44.84,313.63 45.40,313.75 C45.98,313.88 46.55,314.22 47.13,314.30 C47.70,314.38 48.29,314.20 48.87,314.25 C49.45,314.31 50.02,314.57 50.60,314.62 C51.17,314.67 51.76,314.54 52.33,314.54 C52.91,314.55 53.49,314.56 54.07,314.64 C54.65,314.71 55.22,314.91 55.80,315.02 C56.37,315.13 56.94,315.32 57.52,315.32 C58.09,315.33 58.67,315.03 59.23,315.07 C59.81,315.11 60.37,315.46 60.95,315.58 C61.52,315.69 62.09,315.74 62.67,315.79 C63.24,315.83 63.81,315.82 64.38,315.85 C64.96,315.88 65.51,316.03 66.10,315.99 C66.74,315.95 67.41,315.57 68.07,315.57 C68.72,315.57 69.37,315.94 70.03,316.01 C70.68,316.08 71.37,315.86 72.00,316.00 C72.66,316.15 73.28,316.82 73.90,316.90 C74.44,316.97 74.91,316.63 75.50,316.60 C76.24,316.56 77.22,316.89 78.00,316.82 C78.71,316.75 79.33,316.35 80.00,316.28 C80.66,316.21 81.38,316.38 82.00,316.36 C82.54,316.35 83.01,316.24 83.51,316.22 C84.01,316.19 84.52,316.26 85.02,316.23 C85.53,316.19 86.03,316.07 86.53,316.02 C87.04,315.97 87.54,315.92 88.04,315.91 C88.55,315.89 89.06,316.03 89.56,315.94 C90.07,315.85 90.55,315.45 91.07,315.33 C91.56,315.22 92.07,315.26 92.58,315.22 C93.08,315.19 93.59,315.16 94.09,315.12 C94.59,315.08 95.10,315.03 95.60,314.97 C96.10,314.92 96.61,314.77 97.11,314.82 C97.62,314.86 98.12,315.20 98.62,315.23 C99.13,315.27 99.64,315.16 100.14,315.04 C100.65,314.91 101.14,314.53 101.65,314.45 C102.15,314.38 102.66,314.59 103.16,314.58 C103.67,314.56 104.17,314.40 104.67,314.34 C105.18,314.28 105.68,314.25 106.19,314.21 C106.69,314.18 107.19,314.11 107.70,314.11 C108.22,314.11 108.75,314.21 109.27,314.21 C109.80,314.20 110.32,314.14 110.85,314.09 C111.37,314.03 111.89,313.94 112.42,313.87 C112.94,313.80 113.47,313.72 113.99,313.69 C114.51,313.66 115.04,313.72 115.56,313.69 C116.09,313.65 116.61,313.49 117.14,313.48 C117.66,313.48 118.18,313.63 118.71,313.66 C119.23,313.69 119.76,313.72 120.28,313.68 C120.81,313.63 121.33,313.48 121.85,313.39 C122.38,313.30 122.90,313.18 123.43,313.13 C123.95,313.08 124.48,313.11 125.00,313.11 C125.52,313.11 126.03,313.11 126.54,313.12 C127.05,313.13 127.56,313.16 128.07,313.16 C128.59,313.17 129.10,313.22 129.61,313.17 C130.13,313.11 130.64,312.86 131.15,312.83 C131.66,312.80 132.18,312.99 132.69,312.98 C133.20,312.97 133.71,312.84 134.23,312.77 C134.74,312.70 135.25,312.60 135.76,312.56 C136.27,312.51 136.81,312.60 137.30,312.50 C137.79,312.41 138.30,312.45 138.70,312.00 C139.63,310.95 139.85,306.87 140.40,304.20 C140.98,301.41 141.28,297.84 142.10,295.60 C142.68,294.02 143.30,292.10 144.20,291.80 C144.93,291.56 145.96,292.29 146.80,293.00 C148.04,294.05 149.06,296.41 150.30,298.20 C151.65,300.14 153.00,302.37 154.60,304.20 C156.17,306.00 157.80,307.85 159.80,309.10 C161.83,310.37 164.12,311.13 166.70,311.70 C169.77,312.38 172.88,312.30 177.10,312.50 C183.65,312.80 193.83,312.77 202.20,312.90" fill="none" stroke="#111" stroke-width="1.5" stroke-linejoin="round" stroke-linecap="round"/>
<line x1="80.60" y1="327.00" x2="76.10" y2="343.40" stroke="#444" stroke-width="0.9"/>
<polygon points="83.00,317.90 77.20,326.00 84.00,328.00" fill="#000"/>
<text x="63.90" y="351.60" font-size="10" text-anchor="start" font-weight="normal" fill="#111" >Gal-4</text>
<line x1="133.15" y1="324.35" x2="128.10" y2="341.40" stroke="#444" stroke-width="0.9"/>
<polygon points="136.20,314.80 129.40,323.20 136.90,325.50" fill="#000"/>
<text x="113.90" y="351.20" font-size="10" text-anchor="start" fill="#111" style="font-kerning:none">Gal- </text>
<path class="one" d="M763 0H583V1147Q518 1085 412.5 1023T223 930V1104Q373 1175 485.5 1276T645 1472H763V0Z" transform="translate(132.792,351.200) scale(0.004883,-0.004883)" fill="#111" style="stroke-width:30.7px"/>
<line x1="242.60" y1="278.60" x2="242.60" y2="358.10" stroke="#333" stroke-width="1"/>
<line x1="242.10" y1="357.60" x2="405.30" y2="357.60" stroke="#333" stroke-width="1"/>
<line x1="241.10" y1="357.60" x2="242.60" y2="357.60" stroke="#333" stroke-width="1"/>
<text x="239.00" y="360.80" font-size="8.8" text-anchor="end" font-weight="normal" fill="#111" >0</text>
<line x1="241.10" y1="337.70" x2="242.60" y2="337.70" stroke="#333" stroke-width="1"/>
<text x="239.00" y="340.90" font-size="8.8" text-anchor="end" font-weight="normal" fill="#111" >200</text>
<line x1="241.10" y1="318.40" x2="242.60" y2="318.40" stroke="#333" stroke-width="1"/>
<text x="239.00" y="321.60" font-size="8.8" text-anchor="end" font-weight="normal" fill="#111" >400</text>
<line x1="241.10" y1="299.30" x2="242.60" y2="299.30" stroke="#333" stroke-width="1"/>
<text x="239.00" y="302.50" font-size="8.8" text-anchor="end" font-weight="normal" fill="#111" >600</text>
<line x1="241.10" y1="279.10" x2="242.60" y2="279.10" stroke="#333" stroke-width="1"/>
<text x="239.00" y="282.30" font-size="8.8" text-anchor="end" font-weight="normal" fill="#111" >800</text>
<line x1="242.60" y1="357.60" x2="242.60" y2="359.10" stroke="#333" stroke-width="1"/>
<text x="242.60" y="367.50" font-size="8.8" text-anchor="middle" font-weight="normal" fill="#111" >0</text>
<line x1="265.90" y1="357.60" x2="265.90" y2="359.10" stroke="#333" stroke-width="1"/>
<text x="258.56" y="367.50" font-size="8.8" text-anchor="start" fill="#111" style="font-kerning:none"> 00</text>
<path class="one" d="M763 0H583V1147Q518 1085 412.5 1023T223 930V1104Q373 1175 485.5 1276T645 1472H763V0Z" transform="translate(258.559,367.500) scale(0.004297,-0.004297)" fill="#111" style="stroke-width:34.9px"/>
<line x1="289.20" y1="357.60" x2="289.20" y2="359.10" stroke="#333" stroke-width="1"/>
<text x="289.20" y="367.50" font-size="8.8" text-anchor="middle" font-weight="normal" fill="#111" >200</text>
<line x1="312.50" y1="357.60" x2="312.50" y2="359.10" stroke="#333" stroke-width="1"/>
<text x="312.50" y="367.50" font-size="8.8" text-anchor="middle" font-weight="normal" fill="#111" >300</text>
<line x1="335.80" y1="357.60" x2="335.80" y2="359.10" stroke="#333" stroke-width="1"/>
<text x="335.80" y="367.50" font-size="8.8" text-anchor="middle" font-weight="normal" fill="#111" >400</text>
<line x1="359.10" y1="357.60" x2="359.10" y2="359.10" stroke="#333" stroke-width="1"/>
<text x="359.10" y="367.50" font-size="8.8" text-anchor="middle" font-weight="normal" fill="#111" >500</text>
<line x1="382.40" y1="357.60" x2="382.40" y2="359.10" stroke="#333" stroke-width="1"/>
<text x="382.40" y="367.50" font-size="8.8" text-anchor="middle" font-weight="normal" fill="#111" >600</text>
<line x1="405.70" y1="357.60" x2="405.70" y2="359.10" stroke="#333" stroke-width="1"/>
<text x="405.70" y="367.50" font-size="8.8" text-anchor="middle" font-weight="normal" fill="#111" >700</text>
<text x="311.50" y="381.20" font-size="10" text-anchor="start" font-weight="normal" fill="#111" >Time (s)</text>
<text transform="translate(220.50,319.30) rotate(-90)" font-size="10.6" text-anchor="middle" fill="#111">[Ca<tspan font-size="9.2" dy="-4.0">2+</tspan><tspan dy="4.0">]</tspan><tspan font-size="8.4" dy="2.9" dx="0.4">i</tspan><tspan dy="-2.9" dx="0.5"> nM</tspan></text>
<path d="M243.00,321.45 C243.82,321.62 244.65,321.79 245.47,321.97 C246.29,322.14 247.11,322.36 247.93,322.51 C248.75,322.66 249.61,322.78 250.40,322.87 C251.12,322.95 251.79,323.03 252.48,323.06 C253.17,323.09 253.87,323.05 254.56,323.04 C255.25,323.04 255.95,323.01 256.64,323.04 C257.33,323.07 258.03,323.18 258.72,323.23 C259.41,323.29 260.05,323.42 260.80,323.38 C261.70,323.33 262.76,322.97 263.75,322.88 C264.73,322.78 265.95,323.09 266.70,322.80 C267.27,322.58 267.65,322.43 268.00,321.70 C269.25,319.09 268.35,305.33 268.60,300.00 C268.75,296.88 268.62,292.70 269.10,292.60 C269.39,292.54 269.89,294.06 270.30,295.00 C270.85,296.27 271.37,297.90 272.00,299.60 C272.78,301.71 273.70,304.46 274.60,306.70 C275.43,308.77 276.25,310.87 277.20,312.60 C278.01,314.07 278.80,315.62 279.80,316.50 C280.59,317.19 281.42,317.62 282.40,317.80 C283.54,318.01 285.00,317.47 286.30,317.40 C287.60,317.33 288.68,317.33 290.20,317.40 C292.36,317.50 296.25,318.02 298.00,318.15 C298.88,318.22 299.34,318.19 300.00,318.27 C300.67,318.36 301.33,318.57 302.00,318.66 C302.66,318.75 303.33,318.82 304.00,318.81 C304.67,318.80 305.34,318.56 306.00,318.59 C306.67,318.63 307.33,318.94 308.00,319.02 C308.66,319.10 309.34,319.12 310.00,319.07 C310.67,319.02 311.33,318.76 312.00,318.72 C312.66,318.68 313.33,318.83 314.00,318.80 C314.67,318.78 315.34,318.54 316.00,318.56 C316.67,318.58 317.33,318.90 318.00,318.94 C318.66,318.98 319.33,318.81 320.00,318.81 C320.67,318.80 321.33,318.91 322.00,318.91 C322.67,318.91 323.33,318.85 324.00,318.81 C324.67,318.78 325.32,318.73 326.00,318.70 C326.69,318.67 327.41,318.69 328.11,318.65 C328.82,318.61 329.52,318.55 330.22,318.46 C330.93,318.37 331.63,318.12 332.33,318.10 C333.04,318.07 333.74,318.34 334.44,318.30 C335.15,318.26 335.85,317.93 336.56,317.86 C337.26,317.79 337.96,317.81 338.67,317.85 C339.37,317.90 340.08,318.18 340.78,318.14 C341.49,318.10 342.18,317.71 342.89,317.62 C343.59,317.52 344.30,317.57 345.00,317.56 C345.69,317.54 346.37,317.45 347.05,317.51 C347.74,317.57 348.42,317.94 349.10,317.93 C349.78,317.92 350.46,317.51 351.15,317.46 C351.83,317.40 352.70,317.29 353.20,317.60 C353.67,317.90 353.80,319.19 354.10,319.20 C354.37,319.21 354.69,318.59 354.90,318.00 C355.32,316.79 355.24,314.08 355.40,312.00 C355.57,309.76 355.64,307.03 355.90,305.00 C356.11,303.42 356.22,301.65 356.70,300.80 C356.97,300.33 357.36,299.91 357.70,299.90 C358.05,299.89 358.41,300.39 358.80,300.80 C359.40,301.43 360.11,302.38 360.80,303.50 C361.81,305.13 362.89,307.88 364.00,309.80 C365.00,311.51 365.94,313.32 367.10,314.50 C368.05,315.46 369.03,316.24 370.20,316.60 C371.44,316.99 373.42,316.36 374.40,316.62 C374.98,316.78 375.27,317.38 375.70,317.38 C376.13,317.38 376.56,316.61 377.00,316.60 C377.43,316.58 377.86,317.19 378.30,317.26 C378.72,317.32 379.17,317.05 379.60,317.02 C380.03,317.00 380.47,317.10 380.90,317.12 C381.33,317.15 381.77,317.24 382.20,317.18 C382.64,317.12 383.06,316.84 383.50,316.74 C383.93,316.65 384.37,316.65 384.80,316.60" fill="none" stroke="#111" stroke-width="1.3" stroke-linejoin="round" stroke-linecap="round"/>
<line x1="266.90" y1="336.10" x2="266.70" y2="338.75" stroke="#000" stroke-width="1.6"/>
<polygon points="266.70,326.25 263.00,336.10 270.80,336.10" fill="#000"/>
<text x="256.00" y="350.70" font-size="10" text-anchor="start" font-weight="normal" fill="#111" >fMLP</text>
<line x1="322.90" y1="329.70" x2="314.50" y2="339.70" stroke="#000" stroke-width="1.3"/>
<polygon points="329.80,321.90 320.00,327.40 325.80,332.00" fill="#000"/>
<text x="300.80" y="349.90" font-size="10" text-anchor="start" font-weight="normal" fill="#111" >Gal-4</text>
<line x1="358.80" y1="331.75" x2="361.00" y2="339.30" stroke="#000" stroke-width="1.1"/>
<polygon points="355.80,322.70 355.60,332.70 362.00,330.80" fill="#000"/>
<text x="351.00" y="349.90" font-size="10" text-anchor="start" fill="#111" style="font-kerning:none">Gal- </text>
<path class="one" d="M763 0H583V1147Q518 1085 412.5 1023T223 930V1104Q373 1175 485.5 1276T645 1472H763V0Z" transform="translate(369.892,349.900) scale(0.004883,-0.004883)" fill="#111" style="stroke-width:30.7px"/>
<rect x="472.80" y="343.80" width="11.60" height="19.20" fill="#141414" stroke="#000" stroke-width="0.8"/>
<line x1="478.60" y1="342.40" x2="478.60" y2="343.90" stroke="#333" stroke-width="0.8"/>
<line x1="477.20" y1="342.40" x2="480.00" y2="342.40" stroke="#222" stroke-width="1.0"/>
<rect x="495.90" y="284.20" width="11.40" height="78.80" fill="#4b4b4b" stroke="#000" stroke-width="0.8"/>
<line x1="501.60" y1="280.50" x2="501.60" y2="286.30" stroke="#333" stroke-width="0.8"/>
<line x1="500.20" y1="280.50" x2="503.00" y2="280.50" stroke="#222" stroke-width="1.0"/>
<rect x="461.90" y="269.40" width="57.50" height="93.60" fill="none" stroke="#8f8f8f" stroke-width="1.2"/>
<text x="457.40" y="366.00" font-size="8.8" text-anchor="end" font-weight="normal" fill="#111" >0</text>
<text x="447.61" y="342.80" font-size="8.8" text-anchor="start" fill="#111" style="font-kerning:none"> 0</text>
<path class="one" d="M763 0H583V1147Q518 1085 412.5 1023T223 930V1104Q373 1175 485.5 1276T645 1472H763V0Z" transform="translate(447.612,342.800) scale(0.004297,-0.004297)" fill="#111" style="stroke-width:34.9px"/>
<text x="457.40" y="319.60" font-size="8.8" text-anchor="end" font-weight="normal" fill="#111" >20</text>
<text x="457.40" y="296.40" font-size="8.8" text-anchor="end" font-weight="normal" fill="#111" >30</text>
<text x="457.40" y="273.20" font-size="8.8" text-anchor="end" font-weight="normal" fill="#111" >40</text>
<text x="442.10" y="378.70" font-size="10" text-anchor="start" font-weight="normal" fill="#111" >Gal-4</text>
<text x="478.60" y="378.40" font-size="10" text-anchor="middle" font-weight="normal" fill="#111" >-</text>
<text x="501.50" y="379.00" font-size="8.5" text-anchor="middle" font-weight="normal" fill="#111" >+</text>
<line x1="519.40" y1="269.40" x2="519.40" y2="363.00" stroke="#555" stroke-width="1.2"/>
<text transform="translate(443.50,317.60) rotate(-90)" font-size="10.45" text-anchor="middle" fill="#111">% Cells An-V<tspan font-size="10" dy="-4.0">+</tspan><tspan dy="4.0">/PI</tspan><tspan font-size="9.6" dy="-4.0">-</tspan></text>
</svg>
</body></html>
